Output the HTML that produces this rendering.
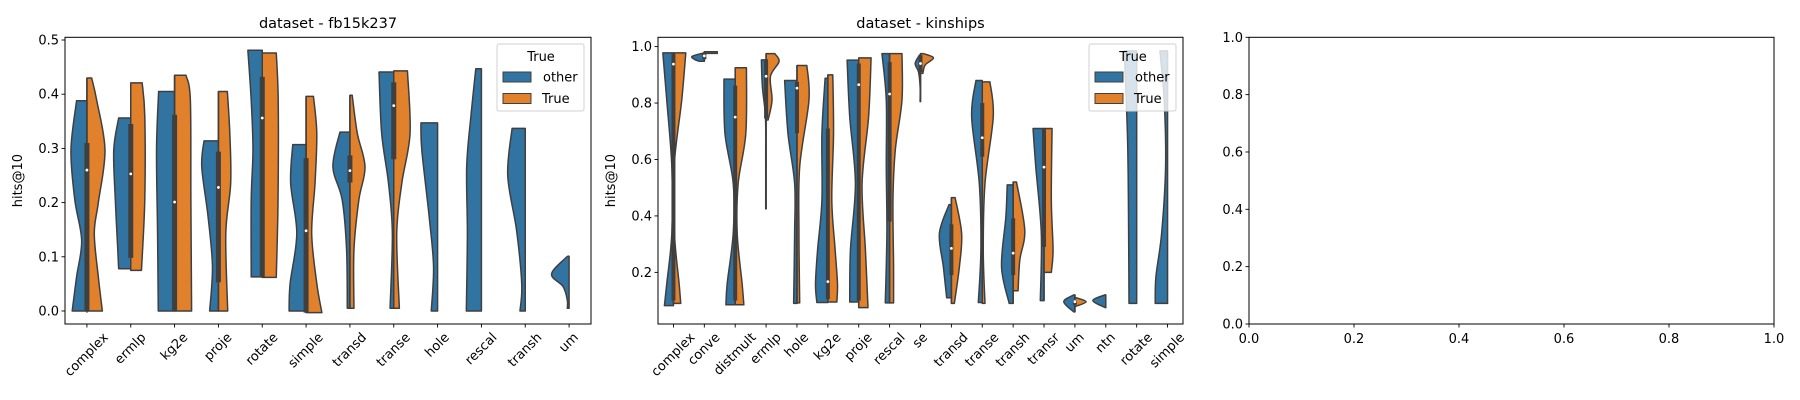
<!DOCTYPE html>
<html><head><meta charset="utf-8"><style>
body{margin:0;background:#fff}
svg{display:block;font-family:"DejaVu Sans","Liberation Sans",sans-serif}
</style></head><body>
<svg id="fig" width="1800" height="400" viewBox="0 0 1800 400"></svg>
<script>
// ---------- Data ----------
const cats1 = ["complex","ermlp","kg2e","proje","rotate","simple","transd","transe","hole","rescal","transh","um"];
// half-violin profiles: [value, relative half-width] from top to bottom
const other1 = [
 [[0.388,0.59],[0.297,0.91],[0.205,0.69],[0.13,0.3],[0.063,0.59],[0,0.84]],
 [[0.356,0.69],[0.297,0.97],[0.205,0.88],[0.113,0.74],[0.078,0.69]],
 [[0.405,0.91],[0.297,1.03],[0.143,0.97],[0,0.93]],
 [[0.314,0.82],[0.266,0.95],[0.174,0.59],[0.082,0.34],[0,0.5]],
 [[0.481,0.82],[0.389,0.63],[0.297,0.53],[0.205,0.63],[0.063,0.63]],
 [[0.307,0.76],[0.236,0.88],[0.143,0.53],[0.051,0.91],[0,0.97]],
 [[0.33,0.57],[0.266,0.97],[0.205,0.44],[0.113,0.19],[0.005,0.15]],
 [[0.441,0.84],[0.328,0.69],[0.236,0.3],[0.143,0.08],[0.005,0.21]],
 [[0.347,0.95],[0.297,0.9],[0.174,0.48],[0.082,0.23],[0,0.36]],
 [[0.447,0.32],[0.359,0.6],[0.266,0.84],[0.143,0.8],[0,0.86]],
 [[0.337,0.75],[0.25,1.0],[0.15,0.5],[0.05,0.2],[0,0.3]],
 [[0.101,0.0],[0.098,0.19],[0.068,1.0],[0.045,0.34],[0.02,0.1],[0.005,0.1]]
];
const true1 = [
 [[0.43,0.27],[0.39,0.55],[0.297,1.03],[0.2,0.65],[0.143,0.42],[0.063,0.65],[0,0.88]],
 [[0.421,0.65],[0.36,0.8],[0.205,0.8],[0.075,0.61]],
 [[0.435,0.65],[0.389,0.9],[0.205,0.93],[0,0.97]],
 [[0.405,0.51],[0.328,0.65],[0.236,0.7],[0.143,0.42],[0,0.53]],
 [[0.476,0.8],[0.389,0.91],[0.205,0.9],[0.062,0.8]],
 [[0.396,0.42],[0.328,0.61],[0.236,0.51],[0.143,0.32],[0.051,0.61],[-0.003,0.9]],
 [[0.398,0.13],[0.328,0.42],[0.266,0.86],[0.205,0.51],[0.113,0.23],[0.005,0.23]],
 [[0.443,0.78],[0.328,0.93],[0.236,0.46],[0.143,0.17],[0.005,0.32]],
 null,null,null,null
];
// box stats: [whiskerLow, q1, median, q3, whiskerHigh]
const box1 = [
 [-0.003,0,0.26,0.31,0.43],[0.075,0.098,0.253,0.345,0.421],[0,0,0.201,0.362,0.435],
 [0,0.053,0.228,0.294,0.405],[0.062,0.062,0.356,0.432,0.481],[-0.003,-0.003,0.148,0.282,0.396],
 [0.005,0.237,0.259,0.287,0.398],[0.005,0.28,0.379,0.422,0.443],null,null,null,null
];
const cats2 = ["complex","conve","distmult","ermlp","hole","kg2e","proje","rescal","se","transd","transe","transh","transr","um","ntn","rotate","simple"];
const other2 = [
 [[0.978,0.86],[0.81,0.54],[0.574,0.13],[0.338,0.13],[0.16,0.54],[0.082,0.73]],
 [[0.975,0.3],[0.965,1.0],[0.955,0.8],[0.948,0.4]],
 [[0.885,0.91],[0.693,0.83],[0.515,0.16],[0.338,0.16],[0.16,0.65],[0.085,0.75]],
 [[0.953,0.38],[0.858,0.3],[0.75,0.05],[0.6,0.03],[0.425,0.03]],
 [[0.88,1.0],[0.693,0.73],[0.515,0.19],[0.338,0.19],[0.09,0.27]],
 [[0.888,0.22],[0.693,0.48],[0.456,0.48],[0.28,0.83],[0.16,1.0],[0.093,0.89]],
 [[0.952,0.94],[0.752,0.73],[0.515,0.27],[0.28,0.67],[0.095,0.73]],
 [[0.975,0.62],[0.81,0.27],[0.574,0.27],[0.338,0.22],[0.092,0.35]],
 [[0.97,0.08],[0.94,0.43],[0.91,0.16],[0.858,0.03],[0.805,0.03]],
 [[0.44,0.19],[0.338,0.97],[0.22,0.65],[0.11,0.38]],
 [[0.88,0.51],[0.752,0.86],[0.515,0.24],[0.28,0.11],[0.093,0.32]],
 [[0.51,0.48],[0.397,0.59],[0.22,0.94],[0.09,0.32]],
 [[0.71,0.89],[0.575,0.67],[0.338,0.22],[0.1,0.3]],
 [[0.12,0.1],[0.096,0.9],[0.06,0.1]],
 [[0.12,0.08],[0.1,1.05],[0.075,0.05]],
 [[0.985,1.0],[0.693,0.75],[0.456,0.67],[0.09,0.62]],
 [[0.985,0.62],[0.81,0.27],[0.574,0.16],[0.338,0.48],[0.185,0.94],[0.09,1.0]]
];
const true2 = [
 [[0.978,1.0],[0.81,0.67],[0.574,0.05],[0.338,0.08],[0.16,0.46],[0.09,0.59]],
 [[0.982,1.05],[0.976,1.05]],
 [[0.925,0.91],[0.693,0.86],[0.515,0.24],[0.338,0.16],[0.16,0.56],[0.085,0.7]],
 [[0.975,0.7],[0.947,1.05],[0.894,0.35],[0.81,0.48],[0.74,0.16]],
 [[0.933,0.8],[0.81,0.97],[0.574,0.22],[0.338,0.16],[0.092,0.22]],
 [[0.9,0.4],[0.693,0.46],[0.456,0.32],[0.28,0.59],[0.16,0.78],[0.095,0.73]],
 [[0.96,1.0],[0.752,0.8],[0.515,0.27],[0.28,0.54],[0.075,0.75]],
 [[0.975,1.0],[0.81,1.0],[0.634,0.46],[0.456,0.27],[0.22,0.32],[0.092,0.32]],
 [[0.975,0.24],[0.96,1.05],[0.935,0.38],[0.905,0.19]],
 [[0.465,0.3],[0.338,0.83],[0.22,0.65],[0.09,0.24]],
 [[0.875,0.62],[0.752,0.89],[0.515,0.22],[0.28,0.08],[0.09,0.22]],
 [[0.52,0.27],[0.35,0.94],[0.244,0.54],[0.135,0.4]],
 [[0.71,0.65],[0.456,0.59],[0.28,0.73],[0.2,0.59]],
 [[0.11,0.1],[0.096,0.9],[0.08,0.1]],
 null,null,null
];
const box2 = [
 [0.09,0.1,0.938,0.975,0.978],[0.948,0.955,0.967,0.98,0.982],[0.085,0.1,0.75,0.862,0.925],
 [0.425,0.745,0.895,0.955,0.975],[0.09,0.693,0.853,0.875,0.933],[0.093,0.105,0.167,0.71,0.9],
 [0.075,0.1,0.865,0.94,0.96],[0.092,0.38,0.832,0.945,0.975],[0.805,0.91,0.94,0.97,0.975],
 [0.09,0.19,0.285,0.37,0.465],[0.09,0.61,0.677,0.8,0.88],[0.09,0.19,0.268,0.392,0.52],
 [0.1,0.29,0.573,0.71,0.71],[0.06,0.085,0.096,0.1,0.12],null,null,null
];
const yTicks1 = [0.0,0.1,0.2,0.3,0.4,0.5];
const yTicks2 = [0.2,0.4,0.6,0.8,1.0];
const ticks3 = [0.0,0.2,0.4,0.6,0.8,1.0];

// ---------- Drawing ----------
const NS="http://www.w3.org/2000/svg";
const svg=document.getElementById('fig');
const BLUE="#3274a1", ORANGE="#e1812c", EDGE="#3f3f3f";
function el(tag,attrs,parent){const e=document.createElementNS(NS,tag);for(const k in attrs)e.setAttribute(k,attrs[k]);(parent||svg).appendChild(e);return e;}
const TOP=37.3, BOT=324;

function panel(cfg){
  const g=el('g',{});
  
  
  const L=cfg.left,R=cfg.right;
  const y=v=>TOP+(cfg.ymax-v)/(cfg.ymax-cfg.ymin)*(BOT-TOP);
  if(cfg.title){const t=el('text',{x:(L+R)/2,y:28,'text-anchor':'middle','font-size':14.5,fill:'#000'},g);t.textContent=cfg.title;
    }
  // y ticks
  cfg.yTicks.forEach(v=>{
    el('line',{x1:L-3.5,x2:L,y1:y(v),y2:y(v),stroke:'#000','stroke-width':0.9},g);
    const t=el('text',{x:L-6,y:y(v)+4.5,'text-anchor':'end','font-size':13,fill:'#000'},g);t.textContent=v.toFixed(1);
    
  });
  if(cfg.ylabel){const t=el('text',{x:0,y:0,'text-anchor':'middle','font-size':13,fill:'#000',transform:`translate(${L-43},${(TOP+BOT)/2}) rotate(-90)`},g);t.textContent=cfg.ylabel;
    }
  if(cfg.cats){
    const n=cfg.cats.length, step=(R-L)/n, x=i=>L+step*(i+0.5), maxW=step*0.4;
    const bw=cfg.boxW;
    cfg.cats.forEach((c,i)=>{
      const cx=x(i);
      el('line',{x1:cx,x2:cx,y1:BOT,y2:BOT+3.5,stroke:'#000','stroke-width':0.9},g);
      const t=el('text',{x:0,y:0,'text-anchor':'middle','dominant-baseline':'central','font-size':13,fill:'#000'},g);
      t.textContent=c;
      
      const len=t.getComputedTextLength();
      const off=(len+13)*0.3536;
      t.setAttribute('transform',`translate(${cx},${BOT+7+off}) rotate(-45)`);
      [[cfg.other[i],-1,BLUE,'violin-other-'+c],[cfg.tru[i],1,ORANGE,'violin-true-'+c]].forEach(([prof,dir,col,nm])=>{
        if(!prof)return;
        const pts=prof.map(p=>[cx+dir*p[1]*maxW,y(p[0])]);
        let d=`M${cx},${pts[0][1]} L${pts[0][0]},${pts[0][1]}`;
        for(let k=0;k<pts.length-1;k++){
          const p0=pts[Math.max(0,k-1)],p1=pts[k],p2=pts[k+1],p3=pts[Math.min(pts.length-1,k+2)];
          const c1=[p1[0]+(p2[0]-p0[0])/6,p1[1]+(p2[1]-p0[1])/6];
          const c2=[p2[0]-(p3[0]-p1[0])/6,p2[1]-(p3[1]-p1[1])/6];
          d+=` C${c1[0]},${c1[1]} ${c2[0]},${c2[1]} ${p2[0]},${p2[1]}`;
        }
        d+=` L${cx},${pts[pts.length-1][1]} Z`;
        const p=el('path',{d,fill:col,stroke:EDGE,'stroke-width':1.5,'stroke-linejoin':'round'},g);
        
      });
      const b=cfg.box[i];
      if(b){
        el('line',{x1:cx,x2:cx,y1:y(b[0]),y2:y(b[4]),stroke:EDGE,'stroke-width':1.5},g);
        const r=el('rect',{x:cx-bw/2,y:y(b[3]),width:bw,height:Math.max(1,y(b[1])-y(b[3])),fill:EDGE},g);
        
        el('circle',{cx:cx,cy:y(b[2]),r:1.4,fill:'#fff'},g);
      }
    });
  }
  if(cfg.xTicks){
    cfg.xTicks.forEach(v=>{
      const xx=L+v*(R-L);
      el('line',{x1:xx,x2:xx,y1:BOT,y2:BOT+3.5,stroke:'#000','stroke-width':0.9},g);
      const t=el('text',{x:xx,y:BOT+19,'text-anchor':'middle','font-size':13,fill:'#000'},g);t.textContent=v.toFixed(1);
      
    });
  }
  el('rect',{x:L,y:TOP,width:R-L,height:BOT-TOP,fill:'none',stroke:'#000','stroke-width':1},g);
  if(cfg.legendX){
    const lx=cfg.legendX;
    const lg=el('g',{},g);
    
    el('rect',{x:lx,y:44,width:87,height:67,rx:2,fill:'rgba(255,255,255,0.8)',stroke:'#d0d0d0','stroke-width':1},lg);
    const tt=el('text',{x:lx+44,y:61,'text-anchor':'middle','font-size':13,fill:'#000'},lg);tt.textContent='True';
    [['other',BLUE,72],['True',ORANGE,93.5]].forEach(([lab,col,yy])=>{
      const e=el('g',{},lg);
      
      el('rect',{x:lx+6,y:yy,width:28,height:10,fill:col,stroke:EDGE,'stroke-width':1},e);
      const t=el('text',{x:lx+(lab==='other'?46:45),y:yy+9.5,'font-size':13,fill:'#000'},e);t.textContent=lab;
    });
  }
}
panel({name:'panel-fb15k237',title:'dataset - fb15k237',left:65,right:591,ymin:-0.024,ymax:0.505,yTicks:yTicks1,ylabel:'hits@10',
  cats:cats1,other:other1,tru:true1,box:box1,boxW:5,legendX:497});
panel({name:'panel-kinships',title:'dataset - kinships',left:658,right:1183,ymin:0.017,ymax:1.033,yTicks:yTicks2,ylabel:'hits@10',
  cats:cats2,other:other2,tru:true2,box:box2,boxW:4,legendX:1089});
panel({name:'panel-empty',left:1249,right:1774,ymin:0,ymax:1,yTicks:ticks3,xTicks:ticks3});
</script>
</body></html>
